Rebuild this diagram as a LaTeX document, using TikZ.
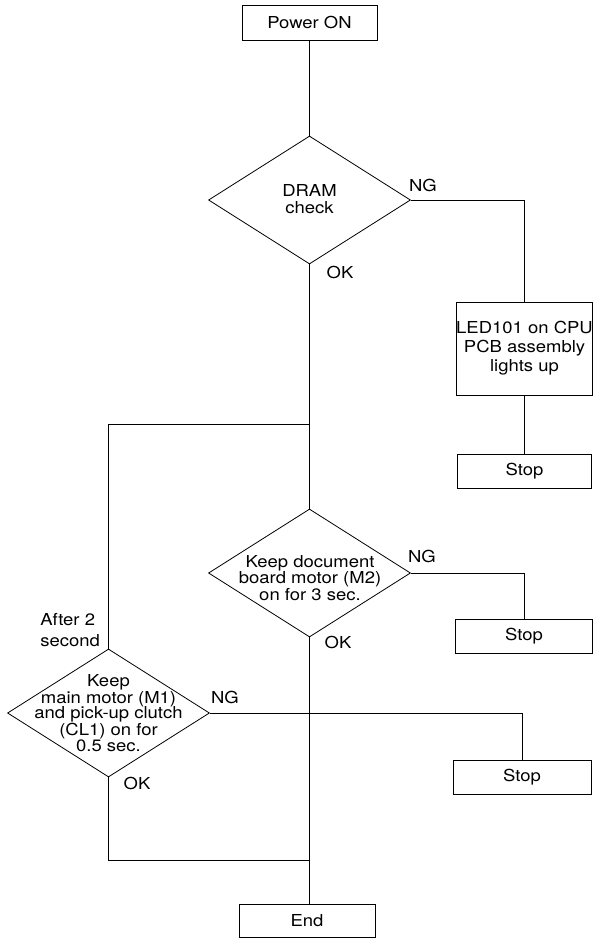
\documentclass[tikz,border=0pt]{standalone}
\usepackage{fontspec}
\setmainfont{TeX Gyre Heros}[FakeStretch=1.12]
\usetikzlibrary{shapes.geometric}
\newcommand\myfs[1]{\fontsize{16.5}{#1}\selectfont}
\begin{document}
\begin{tikzpicture}[x=1pt,y=-1pt,line width=0.8pt,
  box/.style={draw,rectangle,inner sep=0pt,align=center,font=\myfs{19}},
  dia/.style={draw,diamond,inner sep=0pt,minimum width=202pt,minimum height=128pt},
  txt/.style={align=center,inner sep=0pt,font=\myfs{#1}},
  lbl/.style={inner sep=0pt,font=\myfs{19}}]
\useasboundingbox (0,0) rectangle (593,938);
% nodes
\node[box,minimum width=135pt,minimum height=35pt] (power) at (309.5,22.5) {Power ON};
\node[dia] (dram) at (309.5,200) {};
\node[txt=17] (dramt) at (309.5,199) {DRAM\\check};
\node[box,minimum width=134pt,minimum height=93pt] (led) at (524.5,348.5) {LED101 on CPU\\PCB assembly\\lights up};
\node[box,minimum width=134pt,minimum height=34pt] (stop1) at (524.5,471) {Stop};
\node[dia] (m2) at (309.5,573) {};
\node[txt=16.5] (m2t) at (310,578) {Keep document\\board motor (M2)\\on for 3 sec.};
\node[box,minimum width=137pt,minimum height=34pt] (stop2) at (524,636) {Stop};
\node[dia] (m1) at (108.5,713) {};
\node[txt=15.6] (m1t) at (108.5,713) {Keep\\main motor (M1)\\and pick-up clutch\\(CL1) on for\\0.5 sec.};
\node[box,minimum width=138pt,minimum height=34pt] (stop3) at (522,777) {Stop};
\node[box,minimum width=136pt,minimum height=33pt] (end) at (307,920.5) {End};
\coordinate (br) at (309.5,424);
\coordinate (mj) at (309.5,860);
% labels
\node[lbl] (ng1) at (423,185) {NG};
\node[lbl] (ok1) at (340,272) {OK};
\node[lbl] (ng2) at (422,556) {NG};
\node[lbl] (ok2) at (338,642) {OK};
\node[lbl] (ng3) at (225,697) {NG};
\node[lbl] (ok3) at (137,783) {OK};
\node[lbl,align=left,anchor=north west,font=\myfs{21}] (after) at (40,613) {After 2\\second};
% connectors
\draw (power) -- (dram.north);
\draw (dram.east) -| (led.north);
\draw (led) -- (stop1);
\draw (dram.south) -- (m2.north);
\draw (br) -| (m1.north);
\draw (m2.east) -| (stop2.north);
\draw (m1.east) -| (stop3.north);
\draw (m2.south) -- (m2.south |- end.north);
\draw (m1.south) |- (mj);
\end{tikzpicture}
\end{document}
